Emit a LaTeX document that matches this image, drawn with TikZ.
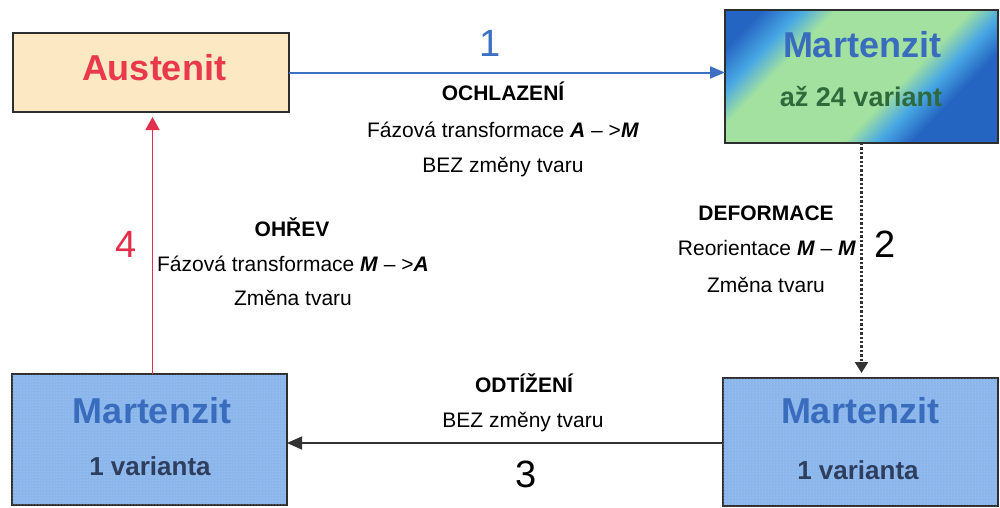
\documentclass[tikz,border=0pt]{standalone}
\usepackage{fontspec}
\setmainfont{Liberation Sans}
\usetikzlibrary{arrows.meta,patterns}
\definecolor{ausfill}{HTML}{FCE8C2}
\definecolor{ausred}{HTML}{E8394D}
\definecolor{mblue}{HTML}{2565C2}
\definecolor{mcyan}{HTML}{48A8E4}
\definecolor{mgreen}{HTML}{A2E1A0}
\definecolor{mtext}{HTML}{3A6CBE}
\definecolor{mgtext}{HTML}{2F6A3C}
\definecolor{bfill}{HTML}{8BB6EC}
\definecolor{bdot}{HTML}{B4D2F6}
\definecolor{btext}{HTML}{2E3E5E}
\definecolor{bordc}{HTML}{2E2E2E}
\definecolor{arrblue}{HTML}{3D70C2}
\definecolor{arrred}{HTML}{E2304C}
\definecolor{arrgray}{HTML}{333333}
\pgfdeclarehorizontalshading{martgrad}{100bp}{color(0bp)=(mblue); color(21bp)=(mblue); color(28bp)=(mcyan); color(34bp)=(mgreen); color(58bp)=(mgreen); color(64bp)=(mcyan); color(70bp)=(mblue); color(100bp)=(mblue)}
\begin{document}
\begin{tikzpicture}[x=1pt,y=-1pt,
  box/.style={draw=bordc, line width=2pt, inner sep=0pt, outer sep=0pt},
  dotbox/.style={box, fill=bfill, postaction={pattern=dots, pattern color=bdot}},
  lbl/.style={font=\fontsize{21}{25}\selectfont, anchor=base, inner sep=0pt},
  lblb/.style={font=\fontsize{21}{25}\selectfont\bfseries, anchor=base, inner sep=0pt},
  num/.style={font=\fontsize{38}{44}\selectfont, anchor=base, inner sep=0pt},
  ttl/.style={font=\fontsize{36}{40}\selectfont\bfseries, anchor=base, inner sep=0pt},
  subt/.style={font=\fontsize{26}{30}\selectfont\bfseries, anchor=base, inner sep=0pt},
  conn/.style={line width=1.6pt},
]
\useasboundingbox (0,0) rectangle (1000,507);
% boxes
\node[box, fill=ausfill, minimum width=276pt, minimum height=79pt] (aus) at (151,72.5) {};
\node[box, shading=martgrad, shading angle=-44, minimum width=273pt, minimum height=133pt] (mtop) at (861.5,76.5) {};
\node[dotbox, minimum width=275pt, minimum height=128pt] (mbr) at (860.5,442) {};
\node[dotbox, minimum width=275pt, minimum height=131pt] (mbl) at (149.5,439.5) {};
% box texts
\node[ttl, text=ausred] (tA) at (154,80) {Austenit};
\node[ttl, text=mtext] (tM1) at (862,57) {Martenzit};
\node[subt, text=mgtext, font=\fontsize{27}{30}\selectfont\bfseries] (tV1) at (861,106) {až 24 variant};
\node[ttl, text=mtext] (tM2) at (860,423) {Martenzit};
\node[subt, text=btext] (tV2) at (858,479) {1 varianta};
\node[ttl, text=mtext] (tM3) at (152,423) {Martenzit};
\node[subt, text=btext] (tV3) at (150,475) {1 varianta};
% connectors
\draw[conn, arrblue, line width=2pt, -{Triangle[length=15pt,width=12pt]}] (aus.east) -- (aus.east -| mtop.west);
\draw[conn, arrgray, line width=2.4pt, dotted, -{Triangle[length=11pt,width=13pt]}, shorten >=5pt] (mtop.south) -- (mtop.south |- mbr.north);
\draw[conn, arrgray, -{Triangle[length=15pt,width=13pt]}] (mbr.west |- 0,443) -- (mbl.east |- 0,443);
\draw[conn, arrred, -{Triangle[length=13pt,width=14pt]}, shorten >=5pt] ([xshift=3pt]mbl.north) -- ([xshift=3pt]mbl.north |- aus.south);
% labels
\node[num, text=arrblue] (n1) at (490,56) {1};
\node[lblb] (l1a) at (503,100) {OCHLAZENÍ};
\node[lbl] (l1b) at (503,137) {Fázová transformace \textbf{\textit{A}} – >\textbf{\textit{M}}};
\node[lbl] (l1c) at (503,172) {BEZ změny tvaru};
\node[num] (n2) at (885,257) {2};
\node[lblb] (l2a) at (766,220) {DEFORMACE};
\node[lbl] (l2b) at (767,255) {Reorientace \textbf{\textit{M}} – \textbf{\textit{M}}};
\node[lbl] (l2c) at (766,292) {Změna tvaru};
\node[num] (n3) at (526,487) {3};
\node[lblb] (l3a) at (524,392) {ODTÍŽENÍ};
\node[lbl] (l3b) at (523,427) {BEZ změny tvaru};
\node[num, text=arrred] (n4) at (126,257) {4};
\node[lblb] (l4a) at (292,236) {OHŘEV};
\node[lbl] (l4b) at (293,271) {Fázová transformace \textbf{\textit{M}} – >\textbf{\textit{A}}};
\node[lbl] (l4c) at (293,305) {Změna tvaru};
\end{tikzpicture}
\end{document}
